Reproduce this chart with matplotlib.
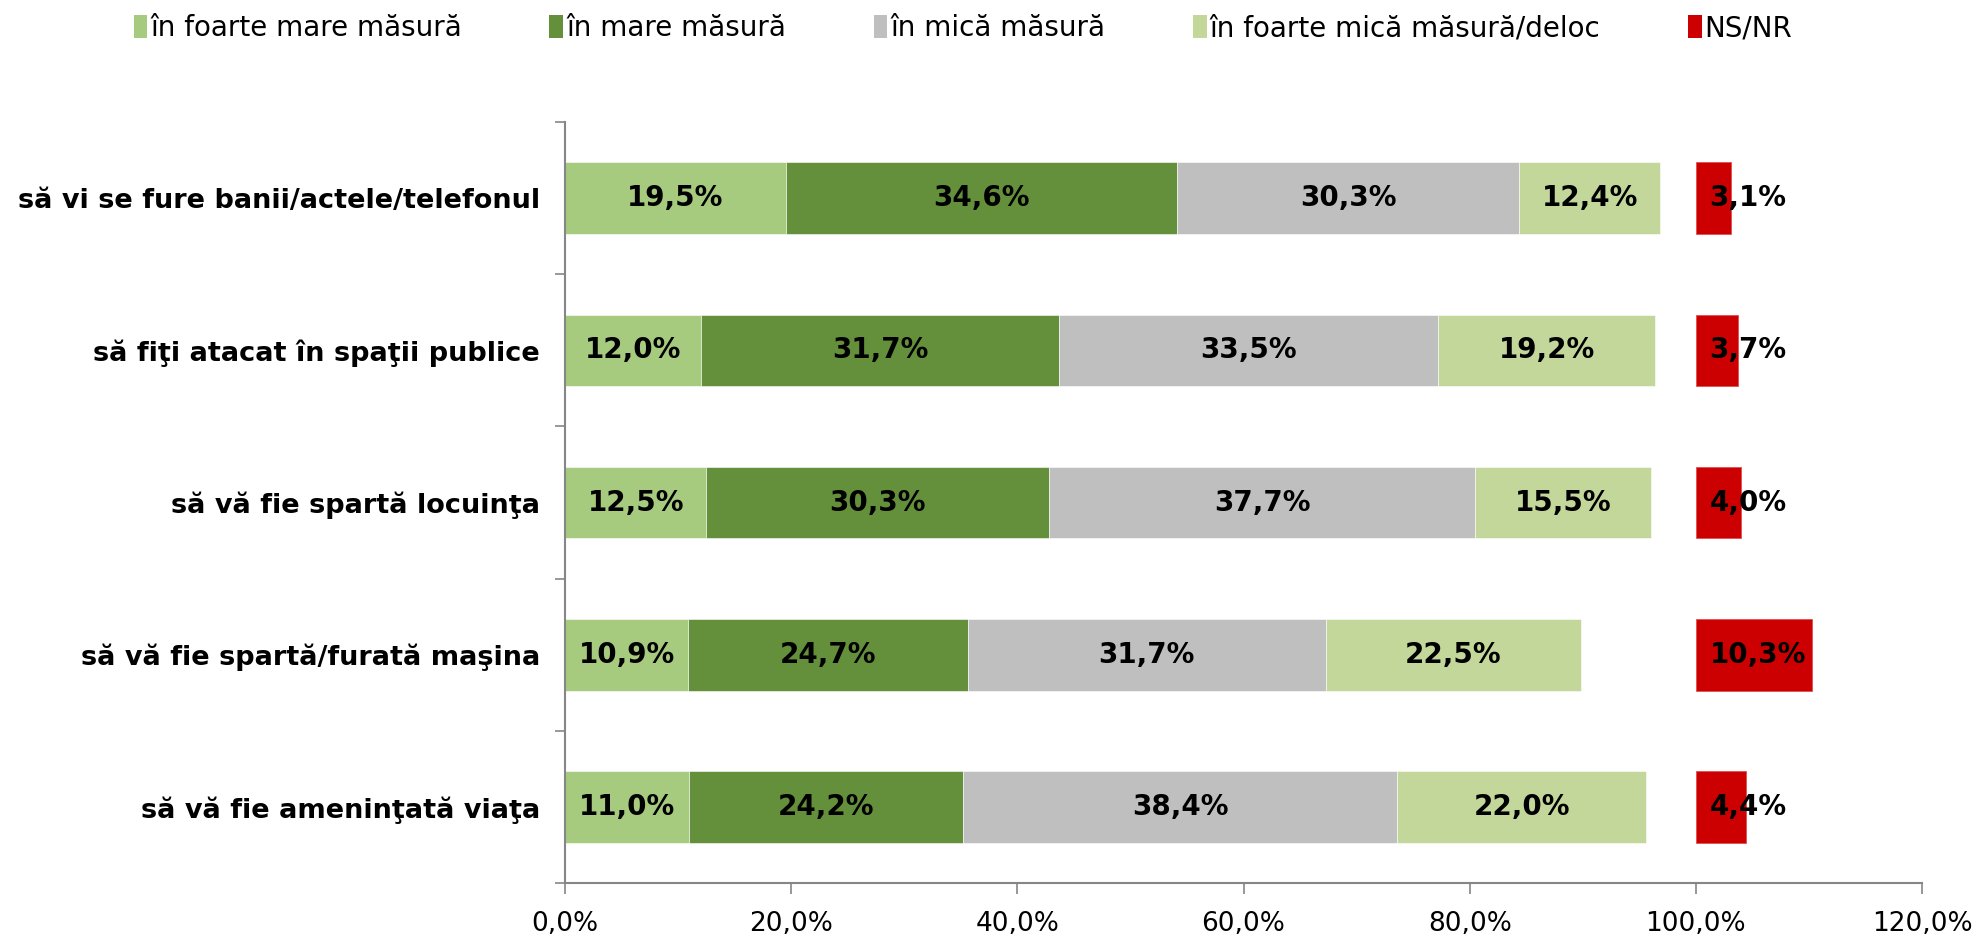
import matplotlib.pyplot as plt
from matplotlib.patches import Patch
from matplotlib.ticker import FuncFormatter, FixedLocator

categories = [
    "să vi se fure banii/actele/telefonul",
    "să fiţi atacat în spaţii publice",
    "să vă fie spartă locuinţa",
    "să vă fie spartă/furată maşina",
    "să vă fie ameninţată viaţa",
]
series_names = ["în foarte mare măsură", "în mare măsură", "în mică măsură",
                "în foarte mică măsură/deloc", "NS/NR"]
foarte_mare = [19.5, 12.0, 12.5, 10.9, 11.0]
mare = [34.6, 31.7, 30.3, 24.7, 24.2]
mica = [30.3, 33.5, 37.7, 31.7, 38.4]
foarte_mica = [12.4, 19.2, 15.5, 22.5, 22.0]
ns_nr = [3.1, 3.7, 4.0, 10.3, 4.4]
colors = ["#A6CB7E", "#648F3B", "#BFBFBF", "#C4D79B", "#CC0000"]

fig = plt.figure(figsize=(19.77, 9.41), dpi=100)
ax = fig.add_axes([0.2858, 0.0616, 0.9722 - 0.2858, 0.8703 - 0.0616])

y = list(range(len(categories)))
h = 0.47
left = [0.0] * len(categories)
for vals, col in zip([foarte_mare, mare, mica, foarte_mica], colors[:4]):
    ax.barh(y, vals, left=left, height=h, color=col, edgecolor="white", linewidth=0.4)
    for i, v in enumerate(vals):
        ax.text(left[i] + v / 2, i, f"{v:.1f}%".replace(".", ","), ha="center", va="center",
                fontsize=20, fontweight="bold", color="black")
    left = [l + v for l, v in zip(left, vals)]

ax.barh(y, ns_nr, left=100, height=h, color=colors[4], edgecolor="#E05050", linewidth=0.6)
for i, v in enumerate(ns_nr):
    ax.text(101.2, i, f"{v:.1f}%".replace(".", ","), ha="left", va="center",
            fontsize=20, fontweight="bold", color="black")

ax.set_xlim(0, 120)
ax.set_ylim(len(categories) - 0.5, -0.5)
ax.set_xticks([0, 20, 40, 60, 80, 100, 120])
ax.xaxis.set_major_formatter(FuncFormatter(lambda v, p: f"{v:.1f}%".replace(".", ",")))
ax.set_yticks(y)
ax.set_yticklabels(categories, fontsize=19.5, fontweight="bold")
ax.yaxis.set_minor_locator(FixedLocator([i - 0.5 for i in range(len(categories) + 1)]))
ax.tick_params(axis="y", which="major", length=0, pad=18)
ax.tick_params(axis="y", which="minor", length=7, color="#868686", width=1.2)
ax.tick_params(axis="x", length=8, color="#868686", width=1.2, labelsize=19, pad=12)
for s in ["top", "right"]:
    ax.spines[s].set_visible(False)
for s in ["left", "bottom"]:
    ax.spines[s].set_color("#868686")
    ax.spines[s].set_linewidth(1.5)

handles = [Patch(facecolor=c, edgecolor="none") for c in colors]
fig.legend(handles, series_names, loc="center", bbox_to_anchor=(0.487, 0.97), ncol=5,
           frameon=False, fontsize=20, handlelength=0.5,
           handleheight=0.9, handletextpad=0.1, columnspacing=3.15)

fig.savefig("out.png", dpi=100)
